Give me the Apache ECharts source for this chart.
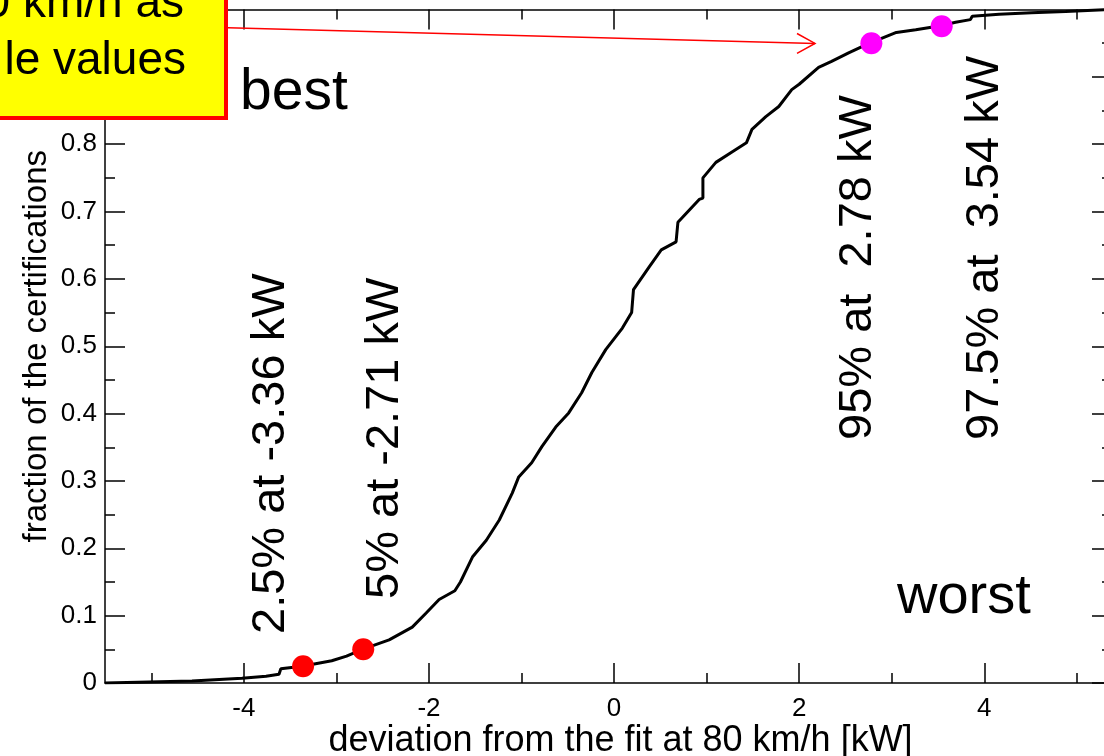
<!DOCTYPE html>
<html><head><meta charset="utf-8">
<script src="https://cdn.jsdelivr.net/npm/echarts@6/dist/echarts.min.js"></script>
<style>html,body{margin:0;padding:0;background:#fff;overflow:hidden}#c{width:1104px;height:756px}</style>
</head><body><div id="c"></div>
<script>
// ---- data ----
const cdfX = [-5.5, -4.56, -4.02, -3.76, -3.62, -3.60, -3.37, -3.05, -2.89, -2.72, -2.43, -2.18, -2.03, -1.89, -1.72, -1.66, -1.53, -1.38, -1.24, -1.10, -1.03, -0.89, -0.78, -0.63, -0.49, -0.35, -0.24, -0.09, 0.09, 0.19, 0.21, 0.21, 0.38, 0.51, 0.67, 0.69, 0.92, 0.96, 0.96, 1.10, 1.27, 1.43, 1.49, 1.64, 1.78, 1.92, 2.00, 2.21, 2.35, 2.54, 2.76, 2.89, 3.05, 3.26, 3.53, 3.69, 3.85, 3.87, 4.16, 4.51, 4.88, 5.38];
const cdfY = [0, 0.003, 0.007, 0.010, 0.013, 0.021, 0.025, 0.033, 0.040, 0.050, 0.064, 0.083, 0.104, 0.124, 0.137, 0.150, 0.187, 0.212, 0.242, 0.282, 0.306, 0.327, 0.351, 0.380, 0.401, 0.431, 0.461, 0.495, 0.527, 0.550, 0.550, 0.584, 0.618, 0.643, 0.655, 0.684, 0.718, 0.720, 0.750, 0.773, 0.788, 0.802, 0.822, 0.841, 0.856, 0.881, 0.889, 0.914, 0.923, 0.936, 0.950, 0.957, 0.966, 0.970, 0.976, 0.981, 0.985, 0.990, 0.993, 0.995, 0.997, 1.0];
const lowQuantX = [-3.36, -2.71];
const lowQuantY = [0.025, 0.05];
const highQuantX = [2.78, 3.54];
const highQuantY = [0.95, 0.975];
const quantileLabels = ['2.5% at -3.36 kW', '5% at -2.71 kW', '95% at  2.78 kW', '97.5% at  3.54 kW'];
const xTickMajor = [-4, -2, 0, 2, 4];
const xTickMinor = [-5, -3, -1, 1, 3, 5];
const yTickMajor = [0, 0.1, 0.2, 0.3, 0.4, 0.5, 0.6, 0.7, 0.8, 0.9, 1.0];
const yTickMinor = [0.05, 0.15, 0.25, 0.35, 0.45, 0.55, 0.65, 0.75, 0.85, 0.95];
const xTitle = 'deviation from the fit at 80 km/h [kW]';
const yTitle = 'fraction of the certifications';
const boxLines = ['0 km/h as', 'le values'];
const cornerLabels = ['best', 'worst'];

// ---- chart ----
const FONT = '"Liberation Sans", Arial, Helvetica, sans-serif';
const chart = echarts.init(document.getElementById('c'), null, {renderer: 'canvas'});
const XMIN = -5.5, XMAX = 5.38, YMIN = 0, YMAX = 1.0;
const lineStyle = {color: '#000', width: 1.5};
function xAx(pos, ticks, len, labels, extra) {
  return Object.assign({
    type: 'value', position: pos, min: XMIN, max: XMAX, gridIndex: 0,
    axisLine: {show: !!extra.line, onZero: false, lineStyle},
    axisTick: {show: true, inside: true, length: len, customValues: ticks, lineStyle},
    axisLabel: labels ? {show: true, customValues: labels, color: '#000', fontSize: 26, fontFamily: FONT, margin: 13,
      formatter: v => String(v)} : {show: false},
    splitLine: {show: false}
  }, extra.more || {});
}
function yAx(pos, ticks, len, labels, extra) {
  return Object.assign({
    type: 'value', position: pos, min: YMIN, max: YMAX, gridIndex: 0,
    axisLine: {show: !!extra.line, onZero: false, lineStyle},
    axisTick: {show: true, inside: true, length: len, customValues: ticks, lineStyle},
    axisLabel: labels ? {show: true, customValues: labels, color: '#000', fontSize: 26, fontFamily: FONT, margin: 8,
      formatter: v => String(+v.toFixed(2))} : {show: false},
    splitLine: {show: false}
  }, extra.more || {});
}

const option = {
  animation: false,
  backgroundColor: '#fff',
  grid: {left: 105, top: 9.5, width: 1007, height: 673.5, containLabel: false, outerBoundsMode: 'none'},
  xAxis: [
    xAx('bottom', xTickMajor, 20, xTickMajor, {line: true, more: {
      name: xTitle, nameLocation: 'middle', nameGap: 40, nameMoveOverlap: false,
      nameTextStyle: {color: '#000', fontSize: 36, fontFamily: FONT, padding: [0, 0, 0, 24]}}}),
    xAx('bottom', xTickMinor, 10, null, {line: false}),
    xAx('top', xTickMajor, 20, null, {line: true}),
    xAx('top', xTickMinor, 10, null, {line: false})
  ],
  yAxis: [
    yAx('left', yTickMajor, 20, yTickMajor, {line: true, more: {
      name: yTitle, nameLocation: 'middle', nameGap: 52, nameRotate: 90, nameMoveOverlap: false,
      nameTextStyle: {color: '#000', fontSize: 33, fontFamily: FONT}}}),
    yAx('left', yTickMinor, 10, null, {line: false}),
    yAx('right', yTickMajor, 20, null, {line: true}),
    yAx('right', yTickMinor, 10, null, {line: false})
  ],
  series: [
    {type: 'line', xAxisIndex: 0, yAxisIndex: 0, data: cdfX.map((x, i) => [x, cdfY[i]]),
      showSymbol: false, symbol: 'none', lineStyle: {color: '#000', width: 3}, z: 2},
    {type: 'scatter', xAxisIndex: 0, yAxisIndex: 0, data: lowQuantX.map((x, i) => [x, lowQuantY[i]]),
      symbol: 'circle', symbolSize: 22, itemStyle: {color: '#ff0000', opacity: 1}, z: 3},
    {type: 'scatter', xAxisIndex: 0, yAxisIndex: 0, data: highQuantX.map((x, i) => [x, highQuantY[i]]),
      symbol: 'circle', symbolSize: 22, itemStyle: {color: '#ff00ff', opacity: 1}, z: 3}
  ]
};
chart.setOption(option);

const labelPos = [[271, 634], [385, 599], [858, 440], [985, 440]];
const graphics = [];
quantileLabels.forEach((t, i) => {
  graphics.push({type: 'text', x: labelPos[i][0], y: labelPos[i][1], rotation: Math.PI / 2, z: 50,
    style: {text: t, font: '47px ' + FONT, fill: '#000', align: 'left', verticalAlign: 'middle'}});
});
graphics.push({type: 'text', x: 240, y: 93, z: 50,
  style: {text: cornerLabels[0], font: '57px ' + FONT, fill: '#000', align: 'left', verticalAlign: 'middle'}});
graphics.push({type: 'text', x: 897, y: 598, z: 50,
  style: {text: cornerLabels[1], font: '56px ' + FONT, fill: '#000', align: 'left', verticalAlign: 'middle'}});
// arrow
graphics.push({type: 'polyline', z: 60, shape: {points: [[200, 27], [815, 43.4]]},
  style: {stroke: '#ff0000', lineWidth: 1.5, fill: null}});
graphics.push({type: 'polyline', z: 60, shape: {points: [[797, 33.5], [815, 43.4], [797, 53.3]]},
  style: {stroke: '#ff0000', lineWidth: 1.5, fill: null}});
// yellow box
graphics.push({type: 'rect', z: 70, shape: {x: -20, y: -20, width: 246, height: 138},
  style: {fill: '#ffff00', stroke: '#ff0000', lineWidth: 4}});
graphics.push({type: 'text', x: 184, y: 27, z: 71,
  style: {text: boxLines[0], font: '46px ' + FONT, fill: '#000', align: 'right', verticalAlign: 'bottom'}});
graphics.push({type: 'text', x: 186, y: 84, z: 71,
  style: {text: boxLines[1], font: '46px ' + FONT, fill: '#000', align: 'right', verticalAlign: 'bottom'}});
chart.setOption({graphic: graphics});
</script>
</body></html>
